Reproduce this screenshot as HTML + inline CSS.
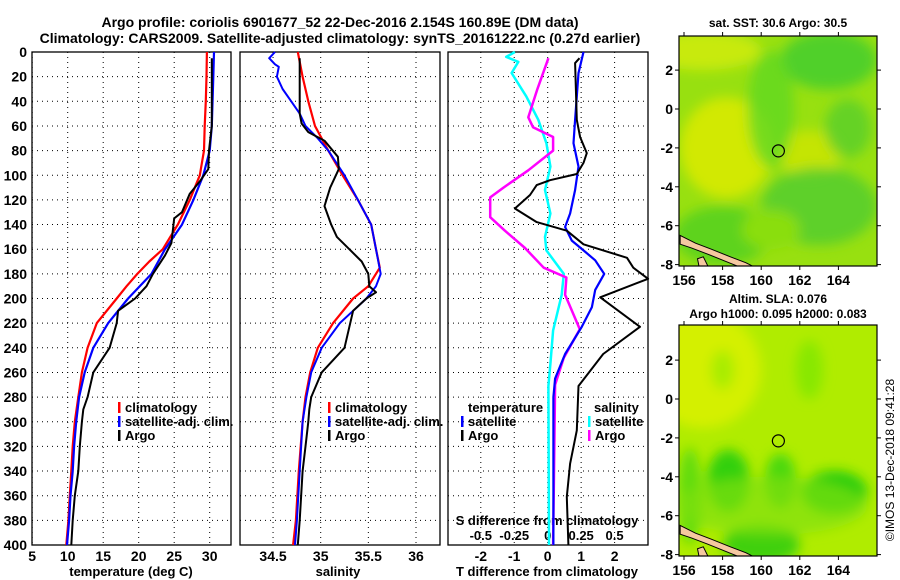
<!DOCTYPE html>
<html><head><meta charset="utf-8">
<style>
html,body{margin:0;padding:0;background:#fff;}
svg{display:block;font-family:"Liberation Sans",Arial,sans-serif;font-weight:bold;}
</style></head>
<body>
<svg id="chart" width="900" height="580" viewBox="0 0 900 580">
<defs>
<filter id="blur6" x="-50%" y="-50%" width="200%" height="200%"><feGaussianBlur stdDeviation="6"/></filter>
<clipPath id="clipTop"><rect x="679" y="36" width="198" height="230"/></clipPath>
<clipPath id="clipBot"><rect x="679" y="325" width="198" height="231"/></clipPath>
</defs>
<text x="340" y="27" text-anchor="middle" font-size="14">Argo profile: coriolis 6901677_52 22-Dec-2016 2.154S 160.89E (DM data)</text>
<text x="340" y="43" text-anchor="middle" font-size="14">Climatology: CARS2009. Satellite-adjusted climatology: synTS_20161222.nc (0.27d earlier)</text>
<g id="layer"></g>
</svg>
<script>
// ---------- data ----------
const depthTicks=[0,20,40,60,80,100,120,140,160,180,200,220,240,260,280,300,320,340,360,380,400];
const tempTicks=[5,10,15,20,25,30];
const salTicks=[34.5,35,35.5,36];
const tdiffTicks=[-2,-1,0,1,2];
const sdiffTicks=[-0.5,-0.25,0,0.25,0.5];
const sdiffLabels=["-0.5","-0.25","0","0.25","0.5"];

const tClimDepth=[0,20,40,60,80,100,110,120,140,160,170,180,190,200,220,240,260,280,300,320,340,360,380,400];
const tClimVal=[29.6,29.55,29.45,29.3,29.2,28.6,27.9,27.2,25.5,23.4,21.5,19.8,18.3,16.9,14.1,12.8,12.0,11.5,11.0,10.7,10.5,10.3,10.1,9.8];
const tSatDepth=[0,20,60,80,100,120,140,160,180,200,210,220,240,260,280,300,320,340,360,380,400];
const tSatVal=[30.6,30.5,30.3,30.0,29.1,27.7,26.1,23.7,21.8,18.5,17.1,15.7,13.6,12.4,11.6,11.2,10.9,10.7,10.4,10.2,9.9];
const tArgoDepth=[5,60,80,95,105,115,130,135,150,155,165,180,190,200,210,220,240,260,280,290,300,320,340,360,380,400];
const tArgoVal=[30.3,30.3,29.9,29.8,28.6,27.2,26.1,25.0,24.7,24.6,23.7,22.0,21.1,19.5,17.1,16.9,15.9,13.6,12.8,12.2,12.0,11.7,11.5,11.0,10.7,10.5];

const sClimDepth=[0,20,40,60,80,100,120,140,160,175,190,200,220,240,260,280,300,340,380,400];
const sClimVal=[34.76,34.81,34.87,34.94,35.08,35.23,35.39,35.53,35.58,35.62,35.5,35.34,35.13,34.97,34.89,34.84,34.81,34.77,34.74,34.71];
const sSatDepth=[0,5,10,12,20,30,40,50,60,70,80,100,120,140,160,180,190,200,210,220,240,260,280,300,340,380,400];
const sSatVal=[34.52,34.46,34.52,34.56,34.54,34.6,34.69,34.78,34.84,34.97,35.08,35.25,35.39,35.53,35.58,35.63,35.58,35.48,35.34,35.2,35.01,34.9,34.85,34.81,34.78,34.75,34.73];
const sArgoDepth=[5,50,58,65,72,85,95,110,125,140,150,160,170,180,190,195,200,210,240,260,280,290,300,320,340,380,400];
const sArgoVal=[34.78,34.78,34.8,34.87,35.04,35.18,35.19,35.1,35.04,35.11,35.17,35.3,35.43,35.5,35.51,35.58,35.48,35.34,35.25,35.01,34.9,34.88,34.87,34.84,34.81,34.78,34.76];

const dTSatDepth=[0,17,55,74,93,112,131,142,153,161,169,180,193,207,223,245,265,280,361,400];
const dTSatVal=[1.07,0.92,0.82,0.77,0.92,0.82,0.67,0.52,0.72,1.07,1.42,1.69,1.42,1.32,1.02,0.52,0.22,0.17,0.17,0.17];
const dTArgoDepth=[5,9,55,69,82,90,99,104,108,116,127,138,145,156,167,175,184,199,223,245,271,307,334,361,400];
const dTArgoVal=[0.95,0.82,0.87,0.97,1.17,1.07,0.87,0.07,-0.33,-0.53,-0.98,-0.33,0.57,1.07,2.37,2.56,3.0,1.57,2.76,1.66,0.92,0.87,0.67,0.57,0.62];
const dSSatDepth=[0,4,8,17,36,55,74,93,112,131,150,161,180,197,226,253,271,400];
const dSSatVal=[-0.245,-0.31,-0.22,-0.27,-0.16,-0.07,-0.01,0.02,-0.02,0.02,-0.02,-0.01,0.12,0.105,0.04,0.02,0.005,0.01];
const dSArgoDepth=[5,31,53,61,69,80,96,110,118,134,145,159,175,183,197,225,248,270,400];
const dSArgoVal=[0.005,-0.08,-0.145,-0.11,0.04,0.04,-0.145,-0.33,-0.43,-0.43,-0.32,-0.17,-0.03,0.14,0.13,0.24,0.12,0.055,0.04];

const mapLonTicks=[156,158,160,162,164];
const mapLatTicks=[2,0,-2,-4,-6,-8];
const argoLon=160.89, argoLat=-2.154;

// ---------- helpers ----------
const NS="http://www.w3.org/2000/svg";
const layer=document.getElementById('layer');
function mk(tag,attrs,parent){const e=document.createElementNS(NS,tag);for(const k in attrs)e.setAttribute(k,attrs[k]);(parent||layer).appendChild(e);return e;}
function yDepth(d){return 52+d*(545-52)/400;}
function xTemp(v){return 32.2+(v-5)*7.1;}
function xSal(v){return 320.7+(v-35)*95.3;}
function xTd(v){return 547.7+v*33.45;}
function xSd(v){return xTd(v*4);}
function mapX(lon){return 684+(lon-156)*19.3;}
function mapYTop(lat){return 109-lat*19.45;}
function mapYBot(lat){return 399-lat*19.45;}

function panel(x0,x1,xTicks,xf,name){
  for(const d of depthTicks){const y=yDepth(d);
    const g=mk('line',{x1:x0,x2:x1,y1:y,y2:y,stroke:'#000','stroke-width':1,'stroke-dasharray':'1,4'});
    
    }
  for(const t of xTicks){const x=xf(t);
    const g=mk('line',{x1:x,x2:x,y1:52,y2:545,stroke:'#000','stroke-width':1,'stroke-dasharray':'1,4'});
    
    }
  const r=mk('rect',{x:x0,y:52,width:x1-x0,height:493,fill:'none',stroke:'#000','stroke-width':1.3});
  
  
}
function series(ds,vs,xf,color,name,w){
  const pts=ds.map((d,i)=>xf(vs[i]).toFixed(1)+','+yDepth(d).toFixed(1)).join(' ');
  const p=mk('polyline',{points:pts,fill:'none',stroke:color,'stroke-width':w||2,'stroke-linejoin':'round'});
  
  
}
function txt(x,y,s,opts,name){
  const t=mk('text',Object.assign({x:x,y:y,'font-size':13},opts||{}));t.textContent=s;
  
  
  return t;
}
function legendEntry(x,y,color,label,name){
  const m=mk('rect',{x:x,y:y-10,width:2.5,height:11,fill:color});
  
  
  txt(x+7,y,label,{},name);
}

// ---------- panels ----------
panel(32,231,tempTicks,xTemp,'temp-panel');
panel(240,440,salTicks,xSal,'sal-panel');
panel(448,648,tdiffTicks,xTd,'diff-panel');

for(const d of depthTicks) txt(27,yDepth(d)+5,String(d),{'text-anchor':'end','font-size':14},'depth-tick-label');
for(const t of tempTicks) txt(xTemp(t),561,String(t),{'text-anchor':'middle','font-size':14},'temp-tick-label');
for(const t of salTicks) txt(xSal(t),561,String(t),{'text-anchor':'middle','font-size':14},'sal-tick-label');
for(const t of tdiffTicks) txt(xTd(t),561,String(t),{'text-anchor':'middle','font-size':14},'tdiff-tick-label');
sdiffTicks.forEach((t,i)=>txt(xSd(t),540,sdiffLabels[i],{'text-anchor':'middle','font-size':13},'sdiff-tick-label'));
txt(131,576,'temperature (deg C)',{'text-anchor':'middle','font-size':13},'temp-axis-title');
txt(338,576,'salinity',{'text-anchor':'middle','font-size':13},'sal-axis-title');
txt(547,576,'T difference from climatology',{'text-anchor':'middle','font-size':13},'tdiff-axis-title');
txt(547,525,'S difference from climatology',{'text-anchor':'middle','font-size':13},'sdiff-axis-title');

series(tClimDepth,tClimVal,xTemp,'#f00','temp-climatology-line',2.2);
series(tSatDepth,tSatVal,xTemp,'#00f','temp-satellite-line',2.2);
series(tArgoDepth,tArgoVal,xTemp,'#000','temp-argo-line',2);
series(sClimDepth,sClimVal,xSal,'#f00','sal-climatology-line',2.2);
series(sSatDepth,sSatVal,xSal,'#00f','sal-satellite-line',2);
series(sArgoDepth,sArgoVal,xSal,'#000','sal-argo-line',2);
series(dSSatDepth,dSSatVal,xSd,'#0ff','sdiff-satellite-line',2.5);
series(dSArgoDepth,dSArgoVal,xSd,'#f0f','sdiff-argo-line',2.5);
series(dTSatDepth,dTSatVal,xTd,'#00f','tdiff-satellite-line',2.2);
series(dTArgoDepth,dTArgoVal,xTd,'#000','tdiff-argo-line',2);

legendEntry(118,412,'#f00','climatology','temp-legend-climatology');
legendEntry(118,426,'#00f','satellite-adj. clim.','temp-legend-satellite');
legendEntry(118,440,'#000','Argo','temp-legend-argo');
legendEntry(328,412,'#f00','climatology','sal-legend-climatology');
legendEntry(328,426,'#00f','satellite-adj. clim.','sal-legend-satellite');
legendEntry(328,440,'#000','Argo','sal-legend-argo');
txt(468,412,'temperature',{},'diff-legend-temperature-header');
legendEntry(461,426,'#00f','satellite','diff-legend-t-satellite');
legendEntry(461,440,'#000','Argo','diff-legend-t-argo');
txt(594,412,'salinity',{},'diff-legend-salinity-header');
legendEntry(588,426,'#0ff','satellite','diff-legend-s-satellite');
legendEntry(588,440,'#f0f','Argo','diff-legend-s-argo');

// ---------- maps ----------
function mapFrame(y0,h,yf,name,clip,blobs,base){
  const g=mk('g',{'clip-path':'url(#'+clip+')'});
  
  
  mk('rect',{x:679,y:y0,width:198,height:h,fill:base},g);
  const bg=mk('g',{filter:'url(#blur6)'},g);
  for(const b of blobs){mk('ellipse',{cx:mapX(b[0]),cy:yf(b[1]),rx:b[2]*19.3,ry:b[3]*19.45,fill:b[4],opacity:b[5]||1},bg);}
  const pts=[[155.8,-6.5],[156.6,-6.9],[157.4,-7.2],[158.4,-7.6],[159.2,-7.9],[159.8,-8.2],[159.2,-8.25],[158.2,-7.85],[157.2,-7.45],[156.4,-7.15],[155.8,-6.95]];
  const c=mk('polygon',{points:pts.map(p=>mapX(p[0])+','+yf(p[1])).join(' '),fill:'#f5c8a0',stroke:'#000','stroke-width':1},g);
  
  
  const c2=mk('polygon',{points:[[156.7,-7.7],[157,-7.6],[157.3,-8.2],[156.8,-8.2]].map(p=>mapX(p[0])+','+yf(p[1])).join(' '),fill:'#f5c8a0',stroke:'#000','stroke-width':1},g);
  
  
  const r=mk('rect',{x:679,y:y0,width:198,height:h,fill:'none',stroke:'#000','stroke-width':1.2});
  
  
  for(const lon of mapLonTicks){
    const tk=mk('line',{x1:mapX(lon),x2:mapX(lon),y1:y0-4,y2:y0,stroke:'#000'});
    
    
    const tb=mk('line',{x1:mapX(lon),x2:mapX(lon),y1:y0+h,y2:y0+h+4,stroke:'#000'});
    
    
    txt(mapX(lon),y0+h+19,String(lon),{'text-anchor':'middle','font-size':14},name+'-lon-label');}
  for(const lat of mapLatTicks){
    const tk=mk('line',{x1:675,x2:679,y1:yf(lat),y2:yf(lat),stroke:'#000'});
    
    
    const tr=mk('line',{x1:877,x2:881,y1:yf(lat),y2:yf(lat),stroke:'#000'});
    
    
    txt(673,yf(lat)+5,String(lat),{'text-anchor':'end','font-size':14},name+'-lat-label');}
  const ci=mk('circle',{cx:mapX(argoLon),cy:yf(argoLat),r:6,fill:'none',stroke:'#000','stroke-width':1.2});
  
  
}
mapFrame(36,230,mapYTop,'sst-map','clipTop',[
  [157,3,3,1,'#c8ea10'],[163.5,2.5,2.5,1.5,'#40cc30',0.8],[158.2,-2,2.4,2.6,'#d8ea00',0.9],[162.5,-2.3,1.6,1.2,'#d0e600',0.8],
  [160.5,0,1.2,3,'#60d820',0.8],[163,-5,3,2,'#50cc30',0.8],[158,-6.5,2.5,1.5,'#50d020',0.8],[164.5,-1,1.2,1.5,'#50cc30',0.7],[160.5,-6.2,1.5,1,'#8ade10']
],'#98e010');
mapFrame(325,231,mapYBot,'sla-map','clipBot',[
  [157,1.5,3,3,'#d4f000'],[162.5,1.5,0.7,1.5,'#88e800'],[158,1.5,0.6,1,'#a8ec00'],
  [158.3,-4.2,1.1,1.6,'#30d010'],[161,-4.2,0.8,1.4,'#48d810'],[163.8,-4.8,1.7,1.1,'#20cc10'],
  [160,-7.5,2,1,'#40d010'],[156.3,-5,0.6,2.5,'#60dc10'],[160.5,-5.5,5,1.5,'#80e010',0.7]
],'#b0ec00');

txt(778,27,'sat. SST: 30.6 Argo: 30.5',{'text-anchor':'middle','font-size':12},'sst-map-title');
txt(778,303,'Altim. SLA: 0.076',{'text-anchor':'middle','font-size':12},'sla-map-title');
txt(778,318,'Argo h1000: 0.095 h2000: 0.083',{'text-anchor':'middle','font-size':12},'sla-map-subtitle');
txt(0,0,'©IMOS 13-Dec-2018 09:41:28',{'text-anchor':'middle','font-size':12,'font-weight':'normal',transform:'translate(894,460) rotate(-90)'},'imos-credit');
</script>
</body></html>
